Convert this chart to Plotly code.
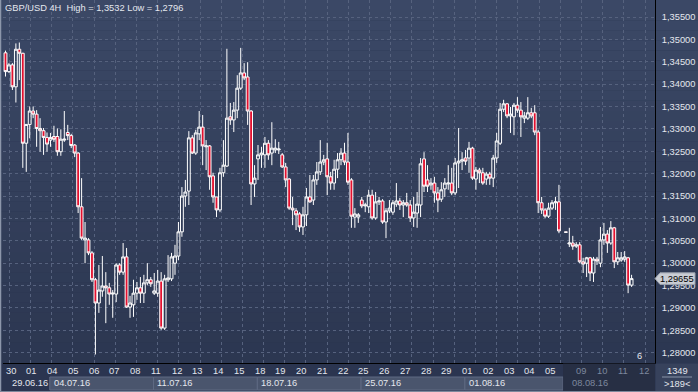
import plotly.graph_objects as go

# ---------------- data ----------------
symbol = "GBP/USD"
period = "4H"
title_high = "1,3532"
title_low = "1,2796"
bars_total_label = "1349"
bars_visible_label = ">189<"
marker_label = "6"

opens = [1.3470, 1.3428, 1.3443, 1.3394, 1.3478, 1.3469, 1.3268, 1.3310, 1.3340, 1.3333,
         1.3301, 1.3296, 1.3281, 1.3275, 1.3283, 1.3283, 1.3249, 1.3275, 1.3292, 1.3285,
         1.3264, 1.3246, 1.3126, 1.3052, 1.3052, 1.3023, 1.2963, 1.2911, 1.2938, 1.2949,
         1.2945, 1.2931, 1.2931, 1.2996, 1.2980, 1.3014, 1.2902, 1.2907, 1.2933, 1.2945,
         1.2933, 1.2956, 1.2963, 1.2933, 1.2933, 1.2960, 1.2855, 1.2963, 1.2965, 1.3000,
         1.3016, 1.3070, 1.3150, 1.3161, 1.3280, 1.3246, 1.3289, 1.3304, 1.3260, 1.3262,
         1.3195, 1.3148, 1.3119, 1.3202, 1.3217, 1.3327, 1.3320, 1.3342, 1.3391, 1.3425,
         1.3416, 1.3340, 1.3177, 1.3233, 1.3242, 1.3242, 1.3268, 1.3246, 1.3253, 1.3253,
         1.3242, 1.3215, 1.3188, 1.3123, 1.3117, 1.3110, 1.3081, 1.3108, 1.3148, 1.3141,
         1.3186, 1.3204, 1.3226, 1.3233, 1.3193, 1.3179, 1.3210, 1.3231, 1.3246, 1.3226,
         1.3186, 1.3103, 1.3103, 1.3141, 1.3128, 1.3126, 1.3152, 1.3101, 1.3137, 1.3139,
         1.3092, 1.3117, 1.3114, 1.3132, 1.3139, 1.3130, 1.3135, 1.3130, 1.3101, 1.3112,
         1.3130, 1.3233, 1.3186, 1.3175, 1.3179, 1.3157, 1.3143, 1.3166, 1.3177, 1.3179,
         1.3157, 1.3224, 1.3228, 1.3235, 1.3235, 1.3257, 1.3188, 1.3208, 1.3202, 1.3188,
         1.3199, 1.3190, 1.3235, 1.3268, 1.3344, 1.3356, 1.3329, 1.3327, 1.3353, 1.3342,
         1.3324, 1.3324, 1.3336, 1.3336, 1.3293, 1.3135, 1.3119, 1.3105, 1.3123, 1.3135,
         1.3137, None, 1.3070, 1.3043, 1.3045, 1.3038, 1.3041, 1.3003, 1.3000, 1.3012,
         1.2978, 1.3009, 1.3000, 1.3052, 1.3065, 1.3045, 1.3079, 1.3003, 1.3007, 1.3009,
         1.3012, 1.2951]
highs = [1.3475, 1.3447, 1.3447, 1.3491, 1.3493, 1.3470, 1.3311, 1.3350, 1.3350, 1.3342,
         1.3324, 1.3302, 1.3292, 1.3291, 1.3307, 1.3301, 1.3299, 1.3340, 1.3309, 1.3289,
         1.3266, 1.3248, 1.3190, 1.3092, 1.3056, 1.3027, 1.2967, 1.2996, 1.3016, 1.2980,
         1.2956, 1.2940, 1.3000, 1.3000, 1.3045, 1.3034, 1.2927, 1.2963, 1.2958, 1.2969,
         1.2974, 1.3000, 1.2969, 1.2978, 1.2985, 1.2980, 1.2974, 1.3018, 1.3023, 1.3041,
         1.3092, 1.3170, 1.3186, 1.3295, 1.3286, 1.3298, 1.3340, 1.3331, 1.3275, 1.3264,
         1.3202, 1.3148, 1.3213, 1.3275, 1.3479, 1.3358, 1.3360, 1.3420, 1.3481, 1.3447,
         1.3449, 1.3342, 1.3219, 1.3264, 1.3260, 1.3282, 1.3275, 1.3315, 1.3277, 1.3271,
         1.3246, 1.3224, 1.3190, 1.3148, 1.3123, 1.3114, 1.3126, 1.3168, 1.3197, 1.3197,
         1.3226, 1.3275, 1.3242, 1.3269, 1.3204, 1.3231, 1.3246, 1.3257, 1.3269, 1.3291,
         1.3190, 1.3123, 1.3112, 1.3148, 1.3135, 1.3164, 1.3164, 1.3159, 1.3148, 1.3143,
         1.3123, 1.3141, 1.3141, 1.3179, 1.3146, 1.3141, 1.3157, 1.3141, 1.3148, 1.3159,
         1.3235, 1.3248, 1.3219, 1.3190, 1.3193, 1.3170, 1.3181, 1.3190, 1.3219, 1.3213,
         1.3235, 1.3302, 1.3248, 1.3253, 1.3271, 1.3260, 1.3215, 1.3213, 1.3213, 1.3204,
         1.3204, 1.3242, 1.3291, 1.3358, 1.3365, 1.3358, 1.3349, 1.3358, 1.3371, 1.3360,
         1.3338, 1.3371, 1.3347, 1.3353, 1.3298, 1.3148, 1.3123, 1.3135, 1.3141, 1.3148,
         1.3175, None, 1.3070, 1.3079, 1.3061, 1.3047, 1.3047, 1.3012, 1.3014, 1.3014,
         1.3014, 1.3014, 1.3081, 1.3090, 1.3074, 1.3094, 1.3081, 1.3025, 1.3025, 1.3027,
         1.3014, 1.2974]
lows = [1.3417, 1.3425, 1.3387, 1.3359, 1.3409, 1.3213, 1.3204, 1.3279, 1.3324, 1.3260,
        1.3249, 1.3242, 1.3249, 1.3260, 1.3271, 1.3240, 1.3240, 1.3271, 1.3275, 1.3257,
        1.3237, 1.3112, 1.3052, 1.3000, 1.3018, 1.2958, 1.2796, 1.2889, 1.2925, 1.2866,
        1.2907, 1.2878, 1.2913, 1.2974, 1.2974, 1.2900, 1.2878, 1.2880, 1.2918, 1.2911,
        1.2911, 1.2951, 1.2947, 1.2929, 1.2925, 1.2851, 1.2851, 1.2958, 1.2960, 1.2974,
        1.3007, 1.3059, 1.3126, 1.3130, 1.3244, 1.3242, 1.3275, 1.3219, 1.3208, 1.3164,
        1.3135, 1.3103, 1.3114, 1.3193, 1.3215, 1.3309, 1.3293, 1.3324, 1.3387, 1.3409,
        1.3309, 1.3130, 1.3148, 1.3186, 1.3213, 1.3213, 1.3231, 1.3219, 1.3246, 1.3244,
        1.3213, 1.3170, 1.3119, 1.3085, 1.3074, 1.3070, 1.3063, 1.3083, 1.3135, 1.3130,
        1.3175, 1.3197, 1.3219, 1.3152, 1.3164, 1.3164, 1.3190, 1.3219, 1.3219, 1.3175,
        1.3079, 1.3079, 1.3090, 1.3123, 1.3114, 1.3112, 1.3097, 1.3097, 1.3130, 1.3088,
        1.3056, 1.3112, 1.3108, 1.3126, 1.3119, 1.3103, 1.3126, 1.3092, 1.3081, 1.3079,
        1.3103, 1.3159, 1.3159, 1.3164, 1.3135, 1.3114, 1.3137, 1.3148, 1.3164, 1.3152,
        1.3152, 1.3168, 1.3208, 1.3219, 1.3202, 1.3186, 1.3164, 1.3179, 1.3175, 1.3175,
        1.3175, 1.3170, 1.3224, 1.3264, 1.3338, 1.3324, 1.3291, 1.3286, 1.3336, 1.3282,
        1.3313, 1.3320, 1.3324, 1.3286, 1.3112, 1.3110, 1.3101, 1.3101, 1.3119, 1.3119,
        1.3067, None, 1.3068, 1.3036, 1.3030, 1.3034, 1.3000, 1.2978, 1.2969, 1.2960,
        1.2958, 1.2996, 1.2991, 1.3041, 1.3023, 1.3041, 1.2989, 1.2996, 1.3003, 1.3003,
        1.2933, 1.2947]
closes = [1.3428, 1.3443, 1.3394, 1.3478, 1.3469, 1.3268, 1.3310, 1.3340, 1.3333, 1.3301,
          1.3296, 1.3281, 1.3266, 1.3281, 1.3277, 1.3249, 1.3277, 1.3277, 1.3285, 1.3263,
          1.3246, 1.3126, 1.3056, 1.3056, 1.3023, 1.2963, 1.2911, 1.2940, 1.2949, 1.2945,
          1.2931, 1.2933, 1.2996, 1.2980, 1.3014, 1.2902, 1.2911, 1.2933, 1.2945, 1.2933,
          1.2956, 1.2963, 1.2954, 1.2938, 1.2960, 1.2855, 1.2965, 1.2967, 1.3014, 1.3016,
          1.3070, 1.3150, 1.3159, 1.3280, 1.3246, 1.3291, 1.3304, 1.3262, 1.3262, 1.3193,
          1.3148, 1.3119, 1.3202, 1.3219, 1.3324, 1.3320, 1.3342, 1.3391, 1.3425, 1.3414,
          1.3340, 1.3177, 1.3190, 1.3242, 1.3246, 1.3268, 1.3242, 1.3257, 1.3257, 1.3255,
          1.3215, 1.3186, 1.3123, 1.3119, 1.3108, 1.3081, 1.3108, 1.3148, 1.3137, 1.3186,
          1.3204, 1.3226, 1.3231, 1.3193, 1.3179, 1.3210, 1.3231, 1.3246, 1.3226, 1.3181,
          1.3105, 1.3110, 1.3108, 1.3128, 1.3130, 1.3152, 1.3101, 1.3137, 1.3139, 1.3092,
          1.3117, 1.3123, 1.3135, 1.3139, 1.3130, 1.3135, 1.3130, 1.3101, 1.3114, 1.3132,
          1.3222, 1.3172, 1.3172, 1.3179, 1.3157, 1.3141, 1.3164, 1.3179, 1.3179, 1.3157,
          1.3224, 1.3228, 1.3231, 1.3228, 1.3257, 1.3190, 1.3208, 1.3202, 1.3179, 1.3199,
          1.3190, 1.3235, 1.3273, 1.3344, 1.3356, 1.3329, 1.3333, 1.3353, 1.3342, 1.3327,
          1.3329, 1.3336, 1.3329, 1.3293, 1.3135, 1.3119, 1.3105, 1.3123, 1.3135, 1.3137,
          1.3072, None, 1.3069, 1.3045, 1.3038, 1.3041, 1.3003, 1.2998, 1.3012, 1.2978,
          1.3009, 1.3005, 1.3052, 1.3065, 1.3045, 1.3079, 1.3003, 1.3012, 1.3012, 1.3014,
          1.2951, 1.29655]

day_labels = ["30", "01", "04", "05", "06", "07", "08", "11", "12", "13", "14", "15",
              "18", "19", "20", "21", "22", "25", "26", "27", "28", "29", "01", "02",
              "03", "04", "05", "08", "09", "10", "11", "12"]
day_bar_counts = [6] * 27 + [3] + [6, 6, 6, 6]
week_labels = ["29.06.16", "04.07.16", "11.07.16", "18.07.16", "25.07.16", "01.08.16", "08.08.16"]
week_first_day = [0, 2, 7, 12, 17, 22, 27]

price_tick_step = 0.005

# ---------------- geometry / style ----------------
W, H = 698, 392
PL, PR, PT, PB = 3, 655, 0, 363
SLOT_PX = 3.459
SLOT0_PX = 5.5
PRICE_TOP = 1.3588
PRICE_PER_PX = 0.00022342

FONT = "Liberation Sans, Arial, sans-serif"
TXT = "#e4e7ee"
DIM = "#7d889e"
GRID = "#56627e"
RED = "#e3102f"


def pxx(p):
    return (p - PL) / (PR - PL)


def pxy(p):
    return 1 - (p - PT) / (PB - PT)


xr0 = (PL - SLOT0_PX) / SLOT_PX
xr1 = (PR - SLOT0_PX) / SLOT_PX
y_lo = PRICE_TOP - (PB - PT) * PRICE_PER_PX

xs = list(range(len(opens)))

fig = go.Figure()
fig.add_trace(go.Candlestick(
    x=xs, open=opens, high=highs, low=lows, close=closes,
    increasing=dict(line=dict(color="#ffffff", width=1), fillcolor="rgba(0,0,0,0)"),
    decreasing=dict(line=dict(color="#ffffff", width=1), fillcolor=RED),
    whiskerwidth=0, hoverinfo="skip", showlegend=False,
))

shapes = []
# background vertical gradient
n_bands = 36
top_c = (59, 72, 102)
bot_c = (44, 55, 81)
for i in range(n_bands):
    t = i / (n_bands - 1)
    c = tuple(round(top_c[k] + (bot_c[k] - top_c[k]) * t) for k in range(3))
    y0 = PT + (PB - PT) * i / n_bands
    y1 = PT + (PB - PT) * (i + 1) / n_bands
    shapes.append(dict(type="rect", xref="paper", yref="paper", layer="below",
                       x0=pxx(0), x1=pxx(W), y0=pxy(y1), y1=pxy(y0),
                       fillcolor="rgb(%d,%d,%d)" % c, line=dict(width=0)))

# day starts in slot units
day_start = []
acc = 0
for n in day_bar_counts:
    day_start.append(acc)
    acc += n
overlay_start = day_start[week_first_day[-1]] - 0.8

# week boxes on 2nd row of the time scale
for wi in range(1, len(week_labels) - 1):
    x0 = day_start[week_first_day[wi]] + 0.8
    x1 = day_start[week_first_day[wi + 1]] + 0.8 if wi + 1 < len(week_labels) - 1 else overlay_start
    shapes.append(dict(type="rect", xref="x", yref="paper", layer="above",
                       x0=x0, x1=x1, y0=pxy(390), y1=pxy(377),
                       fillcolor="#4a556d", line=dict(color="#5f6a83", width=1)))
# dim overlay over the last week of the time scale
shapes.append(dict(type="rect", xref="x", yref="paper", layer="above",
                   x0=overlay_start, x1=xr1, y0=pxy(391), y1=pxy(PB + 0.5),
                   fillcolor="#272f44", line=dict(width=0)))
# bottom-right info box
shapes.append(dict(type="rect", xref="paper", yref="paper", layer="above",
                   x0=pxx(PR + 0.5), x1=pxx(W), y0=pxy(391), y1=pxy(PB + 0.5),
                   fillcolor="#37425c", line=dict(width=0)))
shapes.append(dict(type="line", xref="paper", yref="paper", layer="above",
                   x0=pxx(662), x1=pxx(692), y0=pxy(377), y1=pxy(377),
                   line=dict(color="#8a94a8", width=1)))
# window borders
shapes.append(dict(type="line", xref="paper", yref="paper", layer="above",
                   x0=pxx(0.5), x1=pxx(0.5), y0=pxy(H), y1=pxy(0),
                   line=dict(color="#8c96aa", width=1.5)))
shapes.append(dict(type="line", xref="paper", yref="paper", layer="above",
                   x0=pxx(0), x1=pxx(W), y0=pxy(391.5), y1=pxy(391.5),
                   line=dict(color="#7e889c", width=1)))

# last price tag
last_close = [c for c in closes if c is not None][-1]
half = 5.8 * PRICE_PER_PX
tag_path = "M %f,%f L %f,%f L %f,%f L %f,%f L %f,%f Z" % (
    pxx(PR), last_close,
    pxx(PR + 5), last_close + half,
    pxx(W - 3), last_close + half,
    pxx(W - 3), last_close - half,
    pxx(PR + 5), last_close - half)
shapes.append(dict(type="path", xref="paper", yref="y", layer="above", path=tag_path,
                   fillcolor="#c9cdd4", line=dict(color="#9aa1ad", width=1)))

annotations = []
annotations.append(dict(xref="paper", yref="paper", x=pxx(3), y=pxy(8.5),
                        xanchor="left", yanchor="middle", showarrow=False,
                        text="%s %s  High = %s Low = %s" % (symbol, period, title_high, title_low),
                        font=dict(family=FONT, size=9.3, color=TXT)))
# day labels
for i, lab in enumerate(day_labels):
    nxt = day_start[i + 1] if i + 1 < len(day_start) else day_start[i] + 6
    if nxt - day_start[i] < 4:
        continue
    col = DIM if day_start[i] >= overlay_start else TXT
    annotations.append(dict(xref="x", yref="paper", x=day_start[i], y=pxy(370.5),
                            xanchor="left", yanchor="middle", xshift=-2, showarrow=False,
                            text=lab, font=dict(family=FONT, size=9.3, color=col)))
# week labels
for wi, lab in enumerate(week_labels):
    col = DIM if wi == len(week_labels) - 1 else TXT
    annotations.append(dict(xref="x", yref="paper", x=day_start[week_first_day[wi]] + 1.9,
                            y=pxy(382.5), xanchor="left", yanchor="middle", xshift=-2,
                            showarrow=False, text=lab,
                            font=dict(family=FONT, size=9.3, color=col)))
annotations.append(dict(xref="paper", yref="paper", x=pxx(677), y=pxy(371),
                        xanchor="center", yanchor="middle", showarrow=False,
                        text=bars_total_label, font=dict(family=FONT, size=9.3, color=TXT)))
annotations.append(dict(xref="paper", yref="paper", x=pxx(677), y=pxy(383.5),
                        xanchor="center", yanchor="middle", showarrow=False,
                        text=bars_visible_label, font=dict(family=FONT, size=9.3, color=TXT)))
annotations.append(dict(xref="paper", yref="paper", x=pxx(639), y=pxy(356),
                        xanchor="center", yanchor="middle", showarrow=False,
                        text=marker_label, font=dict(family=FONT, size=9.3, color=TXT)))
annotations.append(dict(xref="paper", yref="y", x=pxx(PR + 4), y=last_close,
                        xanchor="left", yanchor="middle", showarrow=False, xshift=-1,
                        text=("%.5f" % last_close).replace(".", ","),
                        font=dict(family=FONT, size=9.3, color="#000000")))

fig.update_layout(
    width=W, height=H,
    margin=dict(l=PL, r=W - PR, t=PT, b=H - PB, pad=0),
    paper_bgcolor="#2b3550", plot_bgcolor="rgba(0,0,0,0)",
    separators=", ",
    showlegend=False, hovermode=False,
    boxgap=0.18, boxgroupgap=0,
    shapes=shapes, annotations=annotations,
    xaxis=dict(range=[xr0, xr1], rangeslider=dict(visible=False),
               showgrid=True, gridcolor=GRID, griddash="3px,3px", gridwidth=1,
               tick0=(9.3 - SLOT0_PX) / SLOT_PX, dtick=21.19 / SLOT_PX, tickmode="linear",
               showticklabels=False, ticks="", zeroline=False,
               showline=True, linecolor="#000000", linewidth=1),
    yaxis=dict(range=[y_lo, PRICE_TOP], side="right",
               tick0=1.28, dtick=price_tick_step, tickformat=".5f",
               showgrid=True, gridcolor=GRID, griddash="3px,3px", gridwidth=1,
               ticks="", ticklabelstandoff=4, zeroline=False,
               tickfont=dict(family=FONT, size=9.3, color=TXT),
               showline=True, linecolor="#000000", linewidth=1),
)

fig.write_html("out.html")
